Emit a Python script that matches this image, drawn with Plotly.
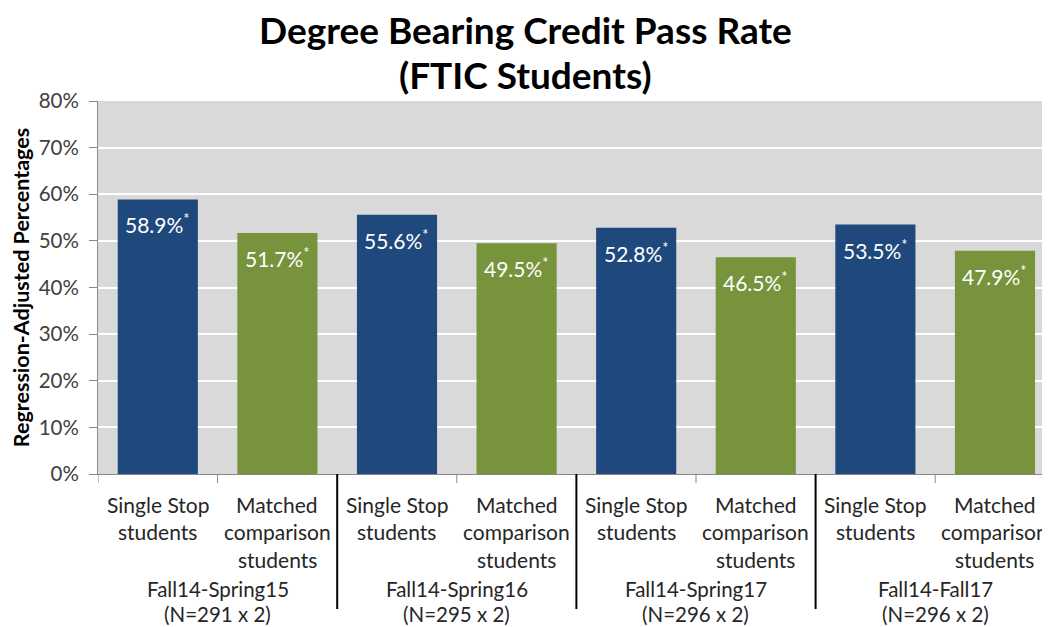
import plotly.graph_objects as go

groups = ["Fall14-Spring15", "Fall14-Spring16", "Fall14-Spring17", "Fall14-Fall17"]
group_n = ["(N=291 x 2)", "(N=295 x 2)", "(N=296 x 2)", "(N=296 x 2)"]
bar_kinds = ["Single Stop students", "Matched comparison students"]
kind_lines = [["Single Stop", "students"], ["Matched", "comparison", "students"]]
single_stop = [58.9, 55.6, 52.8, 53.5]
matched = [51.7, 49.5, 46.5, 47.9]
title_lines = ["Degree Bearing Credit Pass Rate", "(FTIC Students)"]

BLUE = "#1f497d"
GREEN = "#77933c"
FONT = "Lato, Carlito, 'Open Sans', sans-serif"
TXT = "#262626"

# page body has an 8px margin, so the figure is sized to fit the window
W, H = 1042, 619
PLOT_H = 373
L = 90

x_pos, vals, cols, kinds = [], [], [], []
for g in range(len(groups)):
    for k, series in enumerate([single_stop, matched]):
        x_pos.append(2 * g + k)
        vals.append(series[g])
        cols.append(BLUE if k == 0 else GREEN)
        kinds.append(k)

fig = go.Figure()
fig.add_trace(go.Bar(x=x_pos, y=vals, marker=dict(color=cols, line=dict(width=0)),
                     width=0.67, hoverinfo="y", showlegend=False))

annotations = []
# title (centred on the page, not on the plot area)
title_x = (W / 2 - 4 - L) / (W - L)
for txt, sh in zip(title_lines, [72, 27]):
    annotations.append(dict(x=title_x, y=1, xref="paper", yref="paper", xanchor="center",
                            yanchor="middle", yshift=sh, showarrow=False,
                            text=f"<b>{txt}</b>",
                            font=dict(family=FONT, size=37, color="black")))
# value labels
for xp, v in zip(x_pos, vals):
    annotations.append(dict(x=xp, y=v, xref="x", yref="y", yanchor="middle",
                            yshift=-24, showarrow=False,
                            text=f"{v:.1f}%<sup>*</sup>",
                            font=dict(family=FONT, size=21, color="white")))
# category labels
line_offsets = [30, 57, 85]
for xp, k in zip(x_pos, kinds):
    for i, line in enumerate(kind_lines[k]):
        annotations.append(dict(x=xp, y=0, xref="x", yref="paper", yanchor="middle",
                                yshift=-line_offsets[i], showarrow=False, text=line,
                                font=dict(family=FONT, size=21, color=TXT)))
# group labels
for g, (name, n) in enumerate(zip(groups, group_n)):
    for txt, off in [(name, 115), (n, 140)]:
        annotations.append(dict(x=2 * g + 0.5, y=0, xref="x", yref="paper", yanchor="middle",
                                yshift=-off, showarrow=False, text=txt,
                                font=dict(family=FONT, size=20.5, color=TXT)))

shapes = []
# small ticks between bars within each group and at left edge
for b in [-0.5] + [2 * g + 0.5 for g in range(len(groups))]:
    shapes.append(dict(type="line", xref="x", yref="paper", x0=b, x1=b,
                       y0=0, y1=-9 / PLOT_H, line=dict(color="#898989", width=1)))
# group dividers
for g in range(1, len(groups)):
    b = 2 * g - 0.5
    shapes.append(dict(type="line", xref="x", yref="paper", x0=b, x1=b,
                       y0=0, y1=-135 / PLOT_H, line=dict(color="black", width=2)))

fig.update_layout(
    width=W, height=H,
    margin=dict(l=L, r=0, t=93, b=H - 93 - PLOT_H, pad=0),
    paper_bgcolor="white",
    plot_bgcolor="#d9d9d9",
    xaxis=dict(range=[-0.5, 7.46], showticklabels=False, showgrid=False,
               zeroline=False, showline=True, linecolor="#898989", linewidth=1,
               fixedrange=True),
    yaxis=dict(range=[0, 80], dtick=10, ticksuffix="%", showgrid=True,
               gridcolor="white", gridwidth=1.5, zeroline=False,
               showline=True, linecolor="#898989", linewidth=1,
               ticks="outside", ticklen=8, tickcolor="#898989",
               ticklabelstandoff=6,
               tickfont=dict(family=FONT, size=20.5, color="#404040"),
               title=dict(text="<b>Regression-Adjusted Percentages</b>", standoff=6,
                          font=dict(family=FONT, size=21.5, color="black"))),
    annotations=annotations,
    shapes=shapes,
    bargap=0.33,
)

fig.write_html("out.html")
